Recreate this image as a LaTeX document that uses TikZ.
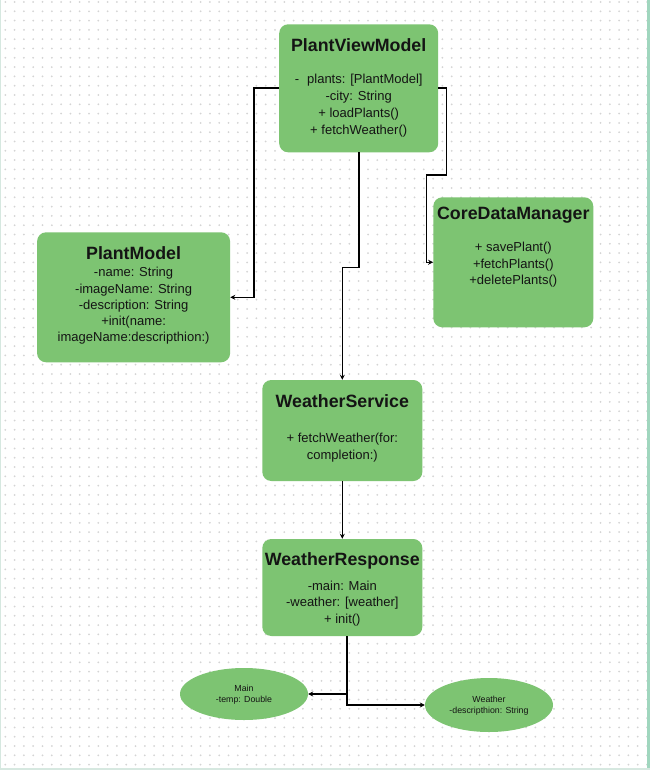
\documentclass[tikz,border=0pt]{standalone}
\usepackage{fontspec}
\setmainfont{Liberation Sans}
\usetikzlibrary{arrows.meta,shapes.geometric}
\definecolor{boxgreen}{RGB}{125,196,114}
\definecolor{gridgray}{RGB}{212,212,212}
\definecolor{edgemint}{RGB}{160,214,190}
\definecolor{edgelight}{RGB}{214,232,224}
\definecolor{ink}{RGB}{20,20,20}
\begin{document}
\begin{tikzpicture}[x=1pt,y=-1pt,
  cls/.style={draw=none,fill=boxgreen,rounded corners=9pt,inner sep=0pt},
  ttl/.style={font=\fontsize{17.8}{20}\selectfont\bfseries,inner sep=0pt,text=ink},
  body/.style={font=\fontsize{13}{#1}\selectfont,align=center,inner sep=0pt,text=ink},
  body/.default=17,
  oval/.style={ellipse,fill=boxgreen,draw=none,inner sep=0pt},
  small/.style={font=\fontsize{8.8}{11}\selectfont,align=center,inner sep=0pt,text=ink},
  link/.style={draw=black,line width=1.6pt,-{Stealth[length=5pt,width=5pt]}},
  ]
\useasboundingbox (0,0) rectangle (650,770);
\fill[white] (0,0) rectangle (650,770);
% dotted canvas
\foreach \i in {0,...,69}
  \foreach \j in {0,...,82}
    \fill[gridgray] (5.3+9.3*\i, 2+9.3*\j) circle (1pt);
% canvas frame
\fill[edgemint] (646.5,0) rectangle (650,770);
\fill[edgelight] (0,767.5) rectangle (650,770);
\fill[edgelight] (0,0) rectangle (1.2,770);

% class boxes
\node[cls, minimum width=159pt, minimum height=128pt] (pvm) at (358.7,88.3) {};
\node[cls, minimum width=193pt, minimum height=130pt] (pm)  at (133.6,297.3) {};
\node[cls, minimum width=160pt, minimum height=130pt] (cdm) at (513.3,262.3) {};
\node[cls, minimum width=160pt, minimum height=101pt] (ws)  at (342.3,430.5) {};
\node[cls, minimum width=160pt, minimum height=97pt]  (wr)  at (342.3,587.5) {};
\node[oval, minimum width=128pt, minimum height=52pt] (main)    at (244,694) {};
\node[oval, minimum width=128pt, minimum height=54pt] (weather) at (489,705) {};

% titles
\node[ttl] (pvmt) at (358.7,45.5) {PlantViewModel};
\node[ttl] (pmt)  at (133.6,253) {PlantModel};
\node[ttl] (cdmt) at (513.3,215.5) {CoreDataManager};
\node[ttl] (wst)  at (342.3,401.5) {WeatherService};
\node[ttl] (wrt)  at (342.3,560.5) {WeatherResponse};

% members
\node[body] (pvmb) at (358.7,105.5) {-\hspace{8pt}plants: [PlantModel]\\-city: String\\+ loadPlants()\\+ fetchWeather()};
\node[body=16.3] (pmb) at (133.6,306) {-name: String\\-imageName: String\\-description: String\\+init(name:\\imageName:descripthion:)};
\node[body=16.5] (cdmb) at (513.3,265) {+ savePlant()\\+fetchPlants()\\+deletePlants()};
\node[body] (wsb) at (342.3,447.5) {+ fetchWeather(for:\\completion:)};
\node[body=16.5] (wrb) at (342.3,603.5) {-main: Main\\-weather: [weather]\\+ init()};
\node[small] (maint) at (244,695) {Main\\-temp: Double};
\node[small] (weathert) at (489,706) {Weather\\-descripthion: String};

% connectors
\draw[link] (pvm.west) -- ++(-25,0) |- (pm.east);
\draw[link] (pvm.south) -- ++(0,115) -| (ws.north);
\draw[link] (pvm.east) -- ++(8,0) -- ++(0,87) -- ++(-20,0) |- (cdm.west);
\draw[link] (ws.south) -- (wr.north);
\draw[link] ([xshift=4.5pt]wr.south) |- (main.east);
\draw[link] ([xshift=4.5pt]wr.south) |- (weather.west);
\end{tikzpicture}
\end{document}
